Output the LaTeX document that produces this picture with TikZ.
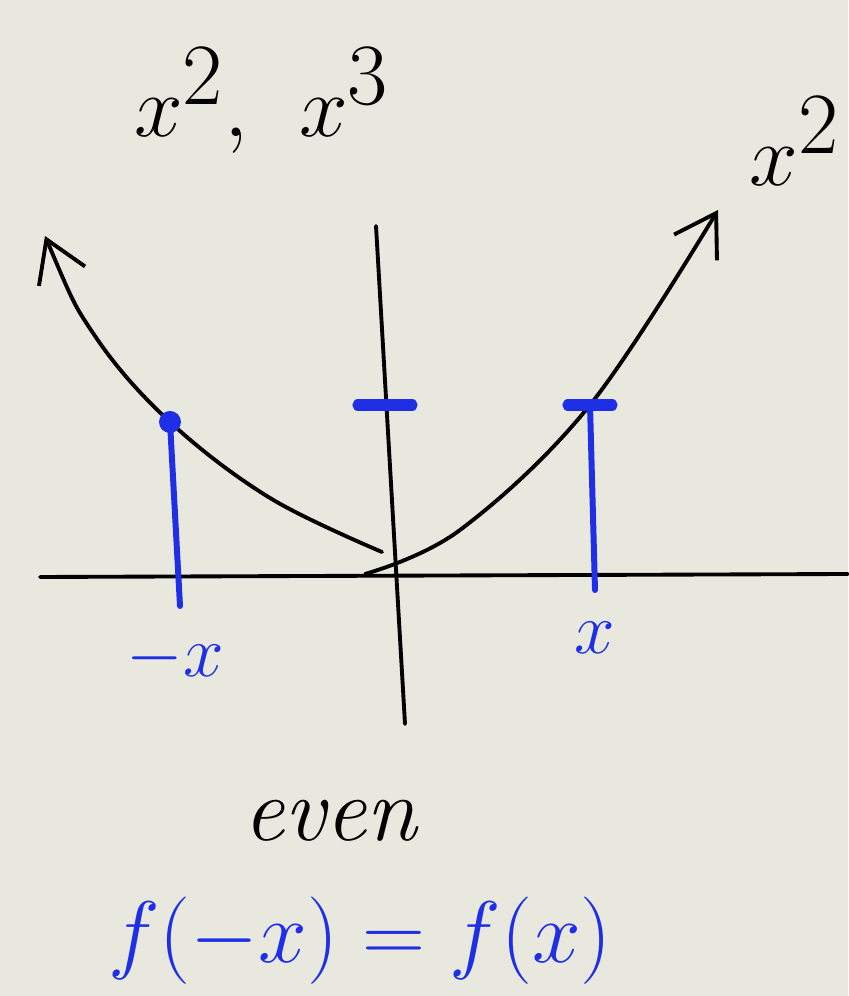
\documentclass[tikz,border=0pt]{standalone}
\usetikzlibrary{arrows.meta}
\definecolor{carta}{HTML}{E8E8DE}
\definecolor{penna}{HTML}{1E2FE6}
\begin{document}
\begin{tikzpicture}[
    >={Straight Barb[length=4mm,width=5mm]},
    curva/.style={line width=1.1pt,line cap=round},
    blu/.style={penna,line width=1.7pt,line cap=round},
    tacca/.style={penna,line width=3.2pt,line cap=round}]
    % foglio
    \fill[carta] (0,0) rectangle (8.48,9.96);
    \useasboundingbox (0,0) rectangle (8.48,9.96);

    % titolo
    \node[font=\fontsize{34}{40}\selectfont] (titolo) at (2.62,8.95) {$x^2,\ x^3$};

    % assi
    \coordinate (O1) at (0.4,4.19);
    \coordinate (O2) at (8.48,4.22);
    \coordinate (V1) at (3.76,7.7);
    \coordinate (V2) at (4.05,2.72);
    \draw[curva] (O1) -- (O2);
    \draw[curva] (V1) -- (V2);

    % parabola
    \draw[curva,<-] plot[smooth,tension=0.6] coordinates
        {(0.45,7.6) (0.95,6.6) (1.70,5.74) (2.70,4.98) (3.82,4.44)};
    \draw[curva,->] plot[smooth,tension=0.6] coordinates
        {(3.65,4.22) (4.6,4.66) (5.9,5.91) (7.18,7.86)};
    \node[font=\fontsize{34}{40}\selectfont] (esp) at (7.95,8.55) {$x^2$};

    % punto -x
    \fill[penna] (1.70,5.74) coordinate (P) circle (0.11);
    \coordinate (A) at (1.80,3.9);
    \draw[blu] (P) -- (A);
    \node[penna,font=\fontsize{22}{26}\selectfont] (mx) at (1.75,3.38) {$-x$};

    % punto x
    \coordinate (Q) at (5.9,5.91);
    \coordinate (B) at (5.95,4.06);
    \draw[tacca] (5.68,5.91) -- (6.12,5.91);
    \draw[blu] (Q) -- (B);
    \node[penna,font=\fontsize{22}{26}\selectfont] (px) at (5.95,3.58) {$x$};

    % tacca sull'asse
    \draw[tacca] (3.58,5.91) -- (4.12,5.91);

    % pari
    \node[font=\fontsize{26}{32}\selectfont\itshape] (pari) at (3.3,1.75) {even};
    \node[penna,font=\fontsize{32}{38}\selectfont] (eq) at (3.6,0.55) {$f(-x)=f(x)$};
\end{tikzpicture}
\end{document}
